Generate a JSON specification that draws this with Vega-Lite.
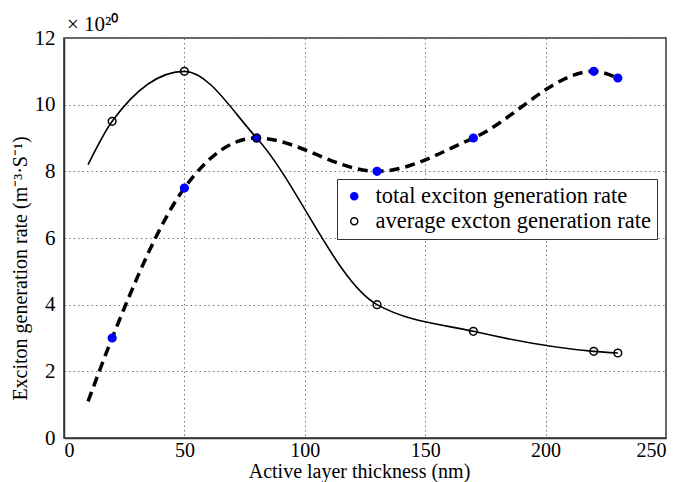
{
  "$schema": "https://vega.github.io/schema/vega-lite/v6.json",
  "width": 602,
  "height": 400,
  "autosize": {"type": "none"},
  "padding": {"left": 64, "top": 38, "right": 20, "bottom": 44},
  "background": "white",
  "title": {"text": "× 10²⁰", "anchor": "start", "frame": "group", "dx": 3, "offset": -8, "fontSize": 21, "fontWeight": "normal", "font": "Liberation Serif", "color": "black"},
  "config": {
    "view": {"stroke": "#333", "strokeWidth": 1.5},
    "font": "Liberation Serif",
    "axis": {"labelFont": "Liberation Serif", "titleFont": "Liberation Serif", "labelFontSize": 21, "titleFontSize": 21, "labelColor": "black", "titleColor": "black", "titleFontWeight": "normal", "domainColor": "#333", "domainWidth": 1.5, "gridColor": "#777", "gridDash": [1.5, 3], "gridWidth": 1, "ticks": false}
  },
  "data": {"values": [
    {"x": 10, "y": 1.1, "series": "total exciton generation rate", "marker": false},
    {"x": 20, "y": 3.0, "series": "total exciton generation rate", "marker": true},
    {"x": 50, "y": 7.5, "series": "total exciton generation rate", "marker": true},
    {"x": 80, "y": 9.0, "series": "total exciton generation rate", "marker": true},
    {"x": 130, "y": 8.0, "series": "total exciton generation rate", "marker": true},
    {"x": 170, "y": 9.0, "series": "total exciton generation rate", "marker": true},
    {"x": 220, "y": 11.0, "series": "total exciton generation rate", "marker": true},
    {"x": 230, "y": 10.8, "series": "total exciton generation rate", "marker": true},
    {"x": 10, "y": 8.2, "series": "average excton generation rate", "marker": false},
    {"x": 20, "y": 9.5, "series": "average excton generation rate", "marker": true},
    {"x": 50, "y": 11.0, "series": "average excton generation rate", "marker": true},
    {"x": 80, "y": 9.0, "series": "average excton generation rate", "marker": true},
    {"x": 130, "y": 4.0, "series": "average excton generation rate", "marker": true},
    {"x": 170, "y": 3.2, "series": "average excton generation rate", "marker": true},
    {"x": 220, "y": 2.6, "series": "average excton generation rate", "marker": true},
    {"x": 230, "y": 2.55, "series": "average excton generation rate", "marker": true}
  ]},
  "encoding": {
    "x": {"field": "x", "type": "quantitative", "scale": {"domain": [0, 250], "nice": false}, "axis": {"values": [0, 50, 100, 150, 200, 250], "title": "Active layer thickness (nm)", "labelPadding": 2, "titleX": 295, "titleY": 23, "titleBaseline": "top", "labelFontSize": 20, "titleFontSize": 20, "labelFont": "Liberation Serif", "titleFont": "Liberation Serif"}},
    "y": {"field": "y", "type": "quantitative", "scale": {"domain": [0, 12], "nice": false}, "axis": {"values": [0, 2, 4, 6, 8, 10, 12], "title": "Exciton generation rate (m⁻³·S⁻¹)", "labelPadding": 9, "titlePadding": 4, "titleY": 230, "labelFontSize": 21, "titleFontSize": 20, "labelFont": "Liberation Serif", "titleFont": "Liberation Serif"}}
  },
  "layer": [
    {
      "transform": [{"filter": "datum.series == 'total exciton generation rate'"}],
      "mark": {"type": "line", "interpolate": "monotone", "color": "black", "strokeWidth": 3.5, "strokeDash": [10, 6]}
    },
    {
      "transform": [{"filter": "datum.series == 'average excton generation rate'"}],
      "mark": {"type": "line", "interpolate": "monotone", "color": "black", "strokeWidth": 1.6}
    },
    {
      "transform": [{"filter": "datum.marker"}],
      "mark": {"type": "point", "shape": "circle", "size": 60, "strokeWidth": 1.5, "opacity": 1},
      "encoding": {
        "fill": {"field": "series", "type": "nominal", "scale": {"domain": ["total exciton generation rate", "average excton generation rate"], "range": ["blue", "transparent"]}, "legend": {"title": null, "orient": "none", "legendX": 273, "legendY": 141, "strokeColor": "#333", "fillColor": "white", "padding": 6, "labelFontSize": 22.5, "labelFont": "Liberation Serif", "labelColor": "black", "labelLimit": 500, "rowPadding": 2, "symbolSize": 50, "symbolStrokeWidth": 1.5, "labelOffset": 10}},
        "stroke": {"field": "series", "type": "nominal", "scale": {"domain": ["total exciton generation rate", "average excton generation rate"], "range": ["blue", "black"]}}
      }
    }
  ]
}
